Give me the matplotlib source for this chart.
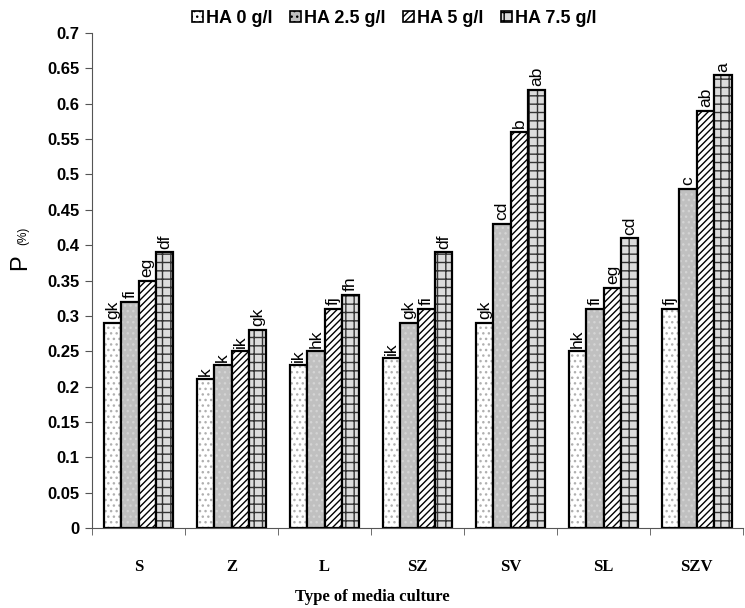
import numpy as np
import matplotlib
matplotlib.use("Agg")
import matplotlib.pyplot as plt
from matplotlib.patches import Patch

# =========================
# DATA
# =========================

cultures = ["S", "Z", "L", "SZ", "SV", "SL", "SZV"]

series_names = ["HA 0 g/l", "HA 2.5 g/l", "HA 5 g/l", "HA 7.5 g/l"]

ha_0 = [0.29, 0.21, 0.23, 0.24, 0.29, 0.25, 0.31]
ha_25 = [0.32, 0.23, 0.25, 0.29, 0.43, 0.31, 0.48]
ha_5 = [0.35, 0.25, 0.31, 0.31, 0.56, 0.34, 0.59]
ha_75 = [0.39, 0.28, 0.33, 0.39, 0.62, 0.41, 0.64]

lab_0 = ["gk", "k", "ik", "ik", "gk", "hk", "fj"]
lab_25 = ["fi", "k", "hk", "gk", "cd", "fi", "c"]
lab_5 = ["eg", "ik", "fj", "fi", "b", "eg", "ab"]
lab_75 = ["df", "gk", "fh", "df", "ab", "cd", "a"]

yticks = [0, 0.05, 0.1, 0.15, 0.2, 0.25, 0.3, 0.35, 0.4, 0.45, 0.5, 0.55, 0.6, 0.65, 0.7]

# =========================
# STYLE
# =========================

plt.rcParams["hatch.linewidth"] = 1.0

values = [ha_0, ha_25, ha_5, ha_75]
letters = [lab_0, lab_25, lab_5, lab_75]
faces = ["white", "#c0c0c0", "white", "#dcdcdc"]
hatches = ["...", "...", "/////", "++"]
hatch_cols = ["#b0b0b0", "#d4d4d4", "black", "#333333"]

fig = plt.figure(figsize=(7.45, 6.08), dpi=100)
ax = fig.add_axes([0.1235, 0.1316, 0.874, 0.8141])

x = np.arange(len(cultures))
w = 0.1875

for i in range(4):
    pos = x - 1.5 * w + i * w
    ax.bar(pos, values[i], width=w, color=faces[i], hatch=hatches[i],
           edgecolor=hatch_cols[i], linewidth=0)
    ax.bar(pos, values[i], width=w, color="none", edgecolor="black", linewidth=1.6)
    for p, v, t in zip(pos, values[i], letters[i]):
        ax.text(p, v + 0.005, t, rotation=90, ha="center", va="bottom",
                fontsize=12.5, family="Liberation Sans")

ax.set_xlim(-0.5, len(cultures) - 0.5)
ax.set_ylim(0, 0.7)

ax.set_yticks(yticks)
ax.set_yticklabels(["0"] + [("%g" % t) for t in yticks[1:]],
                   fontsize=12, fontweight="bold", family="Liberation Sans")

ax.set_xticks(x)
ax.set_xticklabels(cultures, fontsize=12, fontweight="bold", family="Liberation Serif")
ax.set_xticks(np.arange(len(cultures) + 1) - 0.5, minor=True)
ax.tick_params(axis="x", which="major", length=0, pad=22)
ax.tick_params(axis="x", which="minor", length=5, color="#555555")
ax.tick_params(axis="y", length=5, color="#555555", pad=4)

ax.spines["top"].set_visible(False)
ax.spines["right"].set_visible(False)
ax.spines["left"].set_color("#555555")
ax.spines["bottom"].set_color("#555555")

fig.text(0.5, 0.018, "Type of media culture", ha="center", va="center",
         fontsize=12, fontweight="bold", family="Liberation Serif")

fig.text(0.027, 0.568, "P", rotation=90, ha="center", va="center",
         fontsize=17, family="Liberation Sans")
fig.text(0.031, 0.612, "(%)", rotation=90, ha="center", va="center",
         fontsize=8.5, family="Liberation Sans")

handles = [Patch(facecolor=faces[i], hatch=hatches[i], edgecolor="black", linewidth=1.2)
           for i in range(4)]
leg = fig.legend(handles, series_names, loc="center", bbox_to_anchor=(0.529, 0.97),
                 ncol=4, frameon=False, handlelength=0.6, handleheight=0.6,
                 handletextpad=0.15, columnspacing=1.0,
                 prop={"family": "Liberation Sans", "weight": "bold", "size": 13})

fig.savefig("out.png", dpi=100)
